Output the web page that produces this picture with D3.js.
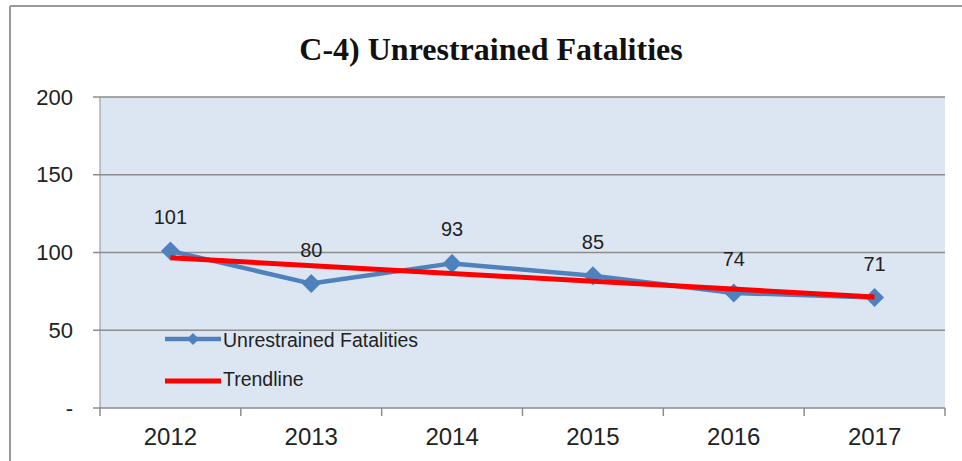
<!DOCTYPE html>
<html><head><meta charset="utf-8">
<script src="https://cdn.jsdelivr.net/npm/d3@7"></script>
<style>html,body{margin:0;padding:0;background:#fff;}svg{display:block;}</style>
</head><body>
<svg id="c" width="962" height="461"></svg>
<script>
const categories = ["2012","2013","2014","2015","2016","2017"];
const fatalities = [101, 80, 93, 85, 74, 71];
const trendline = [96.6, 91.5, 86.5, 81.5, 76.4, 71.4];
const yTicks = [0, 50, 100, 150, 200];
const yTickLabels = ["-", "50", "100", "150", "200"];
const title = "C-4) Unrestrained Fatalities";
const seriesName = "Unrestrained Fatalities";
const trendName = "Trendline";

const svg = d3.select("#c");
const L = 100, R = 945, T = 97, B = 408;
const sans = "Liberation Sans, Arial, sans-serif";

// outer frame
svg.append("line").attr("x1",10).attr("x2",962).attr("y1",6).attr("y2",6).attr("stroke","#999").attr("stroke-width",2);
svg.append("line").attr("x1",10).attr("x2",10).attr("y1",6).attr("y2",461).attr("stroke","#999").attr("stroke-width",2);

svg.append("text").attr("x",491).attr("y",60).attr("text-anchor","middle")
  .attr("font-family","Liberation Serif, Times New Roman, serif").attr("font-weight","bold")
  .attr("font-size",32).attr("fill","#111").text(title);

const x = d3.scaleBand().domain(categories).range([L,R]);
const y = d3.scaleLinear().domain([0,200]).range([B,T]);

svg.append("rect").attr("x",L).attr("y",T).attr("width",R-L).attr("height",B-T).attr("fill","#DCE6F2");

// gridlines
svg.append("g").selectAll("line").data(yTicks).join("line")
  .attr("x1",L-7).attr("x2",R).attr("y1",d=>y(d)).attr("y2",d=>y(d))
  .attr("stroke","#8c8c8c").attr("stroke-width",1.5);
svg.append("line").attr("x1",L).attr("x2",L).attr("y1",T).attr("y2",B).attr("stroke","#8c8c8c").attr("stroke-width",1);

// y labels
svg.append("g").selectAll("text").data(yTicks).join("text")
  .attr("x",73).attr("y",d=>y(d)+7.5).attr("text-anchor","end")
  .attr("font-family",sans).attr("font-size",22).attr("fill","#222")
  .text((d,i)=>yTickLabels[i]);

// x ticks at band boundaries
const bounds = categories.map(c=>x(c)).concat([x(categories[categories.length-1])+x.bandwidth()]);
svg.append("g").selectAll("line").data(bounds).join("line")
  .attr("x1",d=>d).attr("x2",d=>d).attr("y1",B).attr("y2",B+8)
  .attr("stroke","#8c8c8c").attr("stroke-width",1.5);
svg.append("g").selectAll("text").data(categories).join("text")
  .attr("x",d=>x(d)+x.bandwidth()/2).attr("y",445).attr("text-anchor","middle")
  .attr("font-family",sans).attr("font-size",24).attr("fill","#222")
  .text(d=>d);

const cx = c => x(c)+x.bandwidth()/2;
const line = d3.line().x((d,i)=>cx(categories[i])).y(d=>y(d));

svg.append("path").datum(fatalities).attr("d",line).attr("fill","none")
  .attr("stroke","#4F81BD").attr("stroke-width",4.5).attr("stroke-linejoin","round");
const diamond = (s)=>`M0,${-s}L${s},0L0,${s}L${-s},0Z`;
svg.append("g").selectAll("path").data(fatalities).join("path")
  .attr("transform",(d,i)=>`translate(${cx(categories[i])},${y(d)})`)
  .attr("d",diamond(9.5)).attr("fill","#4F81BD");

svg.append("path").datum([trendline[0], trendline[trendline.length-1]])
  .attr("d",d3.line().x((d,i)=>i===0?cx(categories[0]):cx(categories[categories.length-1])).y(d=>y(d)))
  .attr("fill","none").attr("stroke","#FF0000").attr("stroke-width",5);

// data labels
svg.append("g").selectAll("text").data(fatalities).join("text")
  .attr("x",(d,i)=>cx(categories[i])).attr("y",d=>y(d)-27).attr("text-anchor","middle")
  .attr("font-family",sans).attr("font-size",20).attr("fill","#222")
  .text(d=>d);

// legend
const lg = svg.append("g");
lg.append("line").attr("x1",165).attr("x2",221).attr("y1",339).attr("y2",339).attr("stroke","#4F81BD").attr("stroke-width",4.5);
lg.append("path").attr("transform","translate(193,339)").attr("d",diamond(6)).attr("fill","#4F81BD");
lg.append("text").attr("x",223).attr("y",347).attr("font-family",sans)
  .attr("font-size",19.5).attr("fill","#222").text(seriesName);
lg.append("line").attr("x1",165).attr("x2",221).attr("y1",381).attr("y2",381).attr("stroke","#FF0000").attr("stroke-width",5);
lg.append("text").attr("x",223).attr("y",386).attr("font-family",sans)
  .attr("font-size",19.5).attr("fill","#222").text(trendName);
</script>
</body></html>
